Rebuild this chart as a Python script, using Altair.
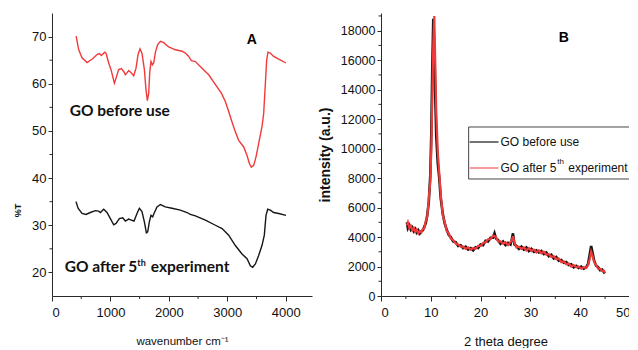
import altair as alt
import pandas as pd

# ---------------- Panel A: FTIR ----------------
wn_before = [413, 457, 514, 600, 685, 770, 811, 845, 902, 924, 970, 1010, 1068, 1096, 1141, 1187,
             1227, 1256, 1284, 1313, 1358, 1398, 1438, 1473, 1506, 1540, 1581, 1609, 1632, 1655,
             1672, 1694, 1718, 1741, 1770, 1809, 1855, 1912, 1997, 2112, 2225, 2283, 2340, 2385,
             2454, 2568, 2682, 2797, 2899, 2968, 3024, 3081, 3138, 3195, 3281, 3338, 3378, 3412,
             3452, 3492, 3537, 3594, 3623, 3652, 3675, 3697, 3737, 3794, 3880, 4005]
t_before = [70.1, 67.2, 65.5, 64.5, 65.2, 66.2, 66.4, 66.0, 66.7, 66.5, 64.4, 63.0, 60.1, 61.2, 63.0, 63.2,
            62.6, 61.9, 62.3, 62.8, 62.3, 61.7, 63.3, 66.2, 67.4, 66.5, 63.0, 58.7, 56.4, 58.0,
            62.3, 64.7, 64.0, 64.4, 66.7, 68.3, 69.0, 68.7, 67.8, 67.2, 66.9, 66.5, 65.8, 64.9,
            64.7, 63.3, 61.9, 59.8, 58.0, 56.2, 54.1, 51.9, 49.8, 48.0, 46.6, 44.8, 43.1, 42.3,
            42.7, 44.5, 47.3, 50.9, 53.7, 60.1, 65.1, 66.7, 66.5, 65.8, 65.2, 64.4]

wn_after = [411, 446, 514, 582, 656, 742, 799, 828, 885, 942, 999, 1056, 1096, 1153, 1210, 1256,
            1313, 1358, 1404, 1455, 1495, 1540, 1581, 1615, 1638, 1666, 1694, 1723, 1746, 1797,
            1855, 1940, 2054, 2197, 2311, 2368, 2454, 2625, 2797, 2911, 3024, 3138, 3252, 3338,
            3395, 3435, 3481, 3537, 3594, 3634, 3663, 3692, 3737, 3794, 3880, 4005]
t_after = [35.0, 33.6, 32.5, 32.3, 32.7, 33.1, 33.0, 32.7, 33.4, 32.7, 31.4, 30.1, 30.4, 31.4, 31.6, 30.9,
           31.3, 31.1, 30.9, 32.5, 33.6, 32.9, 30.7, 28.4, 28.6, 30.7, 32.1, 31.8, 32.5, 33.9,
           34.4, 33.9, 33.6, 33.2, 32.7, 32.3, 32.0, 31.1, 30.0, 29.3, 27.9, 25.7, 23.9, 22.9,
           21.4, 21.1, 21.8, 23.6, 25.7, 27.9, 32.1, 33.4, 33.2, 32.7, 32.5, 32.1]

# ---------------- Panel B: XRD ----------------
tt_grid = [5.2, 5.4, 5.7, 6.0, 6.3, 6.6, 6.9, 7.2, 7.5, 7.8, 8.1, 8.4, 8.7, 9.0, 9.3, 9.6, 9.9,
           10.1, 10.3, 10.5, 10.7, 10.9, 11.1, 11.4, 11.7, 12.0, 12.4, 12.8, 13.2, 13.6, 14.0,
           14.5, 15.0, 15.5, 16.0, 16.5, 17.0, 17.5, 18.0, 18.5, 19.0, 19.5, 20.0, 20.5, 21.0,
           21.5, 22.0, 22.5, 22.8, 23.1, 23.5, 24.0, 24.5, 25.0, 25.5, 26.0, 26.3, 26.5, 26.8,
           27.2, 27.7, 28.2, 28.7, 29.2, 29.7, 30.2, 30.7, 31.2, 31.7, 32.2, 32.7, 33.2, 33.7,
           34.2, 34.7, 35.2, 35.7, 36.2, 36.7, 37.2, 37.7, 38.2, 38.7, 39.2, 39.7, 40.2, 40.7,
           41.2, 41.6, 41.9, 42.2, 42.5, 42.8, 43.2, 43.6, 44.0, 44.4, 44.8, 45.0]
int_black = [5000, 4600, 4800, 4500, 4650, 4400, 4550, 4300, 4450, 4250, 4400, 4450, 4700, 4950, 5500,
             6400, 8200, 11000, 15500, 18800, 17000, 13500, 10800, 9000, 8000, 6600, 5600, 4900,
             4500, 4150, 4000, 3700, 3650, 3400, 3450, 3250, 3350, 3150, 3250, 3100, 3300, 3250,
             3500, 3450, 3750, 3700, 3950, 3950, 4250, 3900, 3800, 3550, 3700, 3450, 3600, 3500,
             3900, 4250, 3500, 3400, 3200, 3350, 3150, 3300, 3050, 3200, 3000, 3100, 2950, 3050,
             2850, 2950, 2700, 2800, 2550, 2650, 2400, 2450, 2250, 2300, 2100, 2150, 1950, 2050,
             1900, 2000, 1850, 1950, 2200, 2800, 3400, 2900, 2400, 2050, 1950, 1750, 1800, 1600, 1650]
int_red = [4800, 5000, 4600, 4750, 4450, 4600, 4350, 4500, 4250, 4400, 4300, 4550, 4600, 5100, 5400,
           6600, 7800, 10000, 13500, 17000, 19000, 15800, 12500, 9800, 8300, 6900, 5500, 5000,
           4400, 4250, 3900, 3800, 3550, 3500, 3350, 3350, 3200, 3300, 3150, 3250, 3200, 3400,
           3400, 3600, 3650, 3850, 3850, 4100, 4050, 4000, 3700, 3700, 3550, 3650, 3450, 3650,
           3800, 4050, 3600, 3300, 3350, 3200, 3300, 3100, 3250, 3050, 3150, 2950, 3100, 2900,
           3000, 2800, 2850, 2650, 2700, 2500, 2550, 2300, 2350, 2150, 2200, 2000, 2100, 1950,
           2000, 1850, 1950, 1900, 2100, 2500, 3000, 2700, 2300, 2100, 1850, 1850, 1700, 1700, 1550]

FONT = "Liberation Sans"
ANNO_FONT = "Lato"
RED = "#f03a3a"
BLACK = "#161616"
AX = "#2a2a2a"
H = 283

# ---------- Panel A ----------
xA_scale = alt.Scale(domain=[0, 4450], nice=False, zero=False)
yA_scale = alt.Scale(domain=[15, 75], nice=False, zero=False)
xA_axis = alt.Axis(values=[0, 1000, 2000, 3000, 4000], format="d", title="wavenumber cm⁻¹", titleFontSize=11.5,
                   titleFontWeight="normal", titlePadding=16, labelFontSize=13, tickSize=5, labelPadding=5)
yA_axis = alt.Axis(values=[20, 30, 40, 50, 60, 70], format="d", title="%T", titleFontSize=9, titleFontWeight="bold",
                   titleAngle=270, titleX=-35, titleY=197, titleAlign="center", titleBaseline="middle",
                   labelFontSize=13, tickSize=4, labelPadding=2)


def xA(f):
    return alt.X(f"{f}:Q", scale=xA_scale, axis=xA_axis)


def yA(f):
    return alt.Y(f"{f}:Q", scale=yA_scale, axis=yA_axis)


dfA_before = pd.DataFrame({"wn": wn_before, "t": t_before})
dfA_after = pd.DataFrame({"wn": wn_after, "t": t_after})

lineA_red = alt.Chart(dfA_before).mark_line(color=RED, strokeWidth=1.4).encode(x=xA("wn"), y=yA("t"))
lineA_black = alt.Chart(dfA_after).mark_line(color=BLACK, strokeWidth=1.4).encode(x=xA("wn"), y=yA("t"))

minorA_y = pd.DataFrame({"t": [25, 35, 45, 55, 65]})
minorA_x = pd.DataFrame({"wn": [500, 1500, 2500, 3500]})
ticksA_y = alt.Chart(minorA_y).mark_rule(color=AX).encode(y=yA("t"), x=alt.value(-2.5), x2=alt.value(0))
ticksA_x = alt.Chart(minorA_x).mark_rule(color=AX).encode(x=xA("wn"), y=alt.value(H), y2=alt.value(H + 3))

labA = pd.DataFrame({"wn": [3420], "t": [69.3], "s": ["A"]})
textA_label = alt.Chart(labA).mark_text(font=FONT, fontSize=14, fontWeight="bold", color="#000").encode(
    x=xA("wn"), y=yA("t"), text="s:N")

anno_main = pd.DataFrame({"wn": [303, 217, 1690], "t": [54.2, 21.15, 21.15],
                          "s": ["GO before use", "GO after 5", "experiment"]})
anno_sup = pd.DataFrame({"wn": [1460], "t": [22.0], "s": ["th"]})
textA_main = alt.Chart(anno_main).mark_text(font=ANNO_FONT, fontSize=15.5, fontWeight="bold", align="left",
                                            baseline="middle", color="#111").encode(x=xA("wn"), y=yA("t"), text="s:N")
textA_sup = alt.Chart(anno_sup).mark_text(font=ANNO_FONT, fontSize=9, fontWeight="bold", align="left",
                                          baseline="middle", color="#111").encode(x=xA("wn"), y=yA("t"), text="s:N")

panelA = alt.layer(lineA_red, lineA_black, ticksA_y, ticksA_x, textA_label, textA_main, textA_sup).properties(
    width=260, height=H)

# ---------- Panel B ----------
xB_scale = alt.Scale(domain=[0, 50], nice=False, zero=False)
yB_scale = alt.Scale(domain=[0, 19200], nice=False, zero=False)
xB_axis = alt.Axis(values=[0, 10, 20, 30, 40, 50], format="d", title="2 theta degree", titleFontSize=13,
                   titleFontWeight="normal", titlePadding=16, labelFontSize=13, tickSize=5, labelPadding=5)
yB_axis = alt.Axis(values=list(range(0, 18001, 2000)), format="d", title="intensity (a.u.)", titleFontSize=14,
                   titleFontWeight="bold", titlePadding=8, labelFontSize=12.5, tickSize=4, labelPadding=2)


def xB(f):
    return alt.X(f"{f}:Q", scale=xB_scale, axis=xB_axis)


def yB(f):
    return alt.Y(f"{f}:Q", scale=yB_scale, axis=yB_axis)


dfB_black = pd.DataFrame({"tt": tt_grid, "i": int_black})
dfB_red = pd.DataFrame({"tt": tt_grid, "i": int_red})
lineB_black = alt.Chart(dfB_black).mark_line(color=BLACK, strokeWidth=2.6).encode(x=xB("tt"), y=yB("i"))
lineB_red = alt.Chart(dfB_red).mark_line(color=RED, strokeWidth=2.2).encode(x=xB("tt"), y=yB("i"))

minorB_y = pd.DataFrame({"i": list(range(1000, 19001, 2000))})
minorB_x = pd.DataFrame({"tt": [5, 15, 25, 35, 45]})
ticksB_y = alt.Chart(minorB_y).mark_rule(color=AX).encode(y=yB("i"), x=alt.value(-2.5), x2=alt.value(0))
ticksB_x = alt.Chart(minorB_x).mark_rule(color=AX).encode(x=xB("tt"), y=alt.value(H), y2=alt.value(H + 3))

labB = pd.DataFrame({"tt": [36.7], "i": [17500], "s": ["B"]})
textB_label = alt.Chart(labB).mark_text(font=FONT, fontSize=14, fontWeight="bold", color="#000").encode(
    x=xB("tt"), y=yB("i"), text="s:N")

# legend
leg_box = pd.DataFrame({"tt": [17.6], "tt2": [50.3], "i": [11466], "i2": [7938]})
legend_box = alt.Chart(leg_box).mark_rect(fill="white", stroke="#444", strokeWidth=1).encode(
    x=xB("tt"), x2="tt2:Q", y=yB("i"), y2="i2:Q")
leg_lines = pd.DataFrame({"tt": [17.8, 17.8], "tt2": [23.6, 23.6], "i": [10448, 8684],
                          "c": ["GO before use", "GO after 5th experiment"]})
legend_lines = alt.Chart(leg_lines).mark_rule(strokeWidth=1.2).encode(
    x=xB("tt"), x2="tt2:Q", y=yB("i"),
    color=alt.Color("c:N", scale=alt.Scale(domain=["GO before use", "GO after 5th experiment"],
                                           range=[BLACK, "#f25a5a"]), legend=None))
leg_text = pd.DataFrame({"tt": [24.0, 24.0, 37.6], "i": [10448, 8684, 8684],
                         "s": ["GO before use", "GO after 5", "experiment"]})
legend_text = alt.Chart(leg_text).mark_text(font=FONT, fontSize=12, align="left", baseline="middle",
                                            color="#111").encode(x=xB("tt"), y=yB("i"), text="s:N")
leg_sup = pd.DataFrame({"tt": [35.4], "i": [9100], "s": ["th"]})
legend_sup = alt.Chart(leg_sup).mark_text(font=FONT, fontSize=8, align="left", baseline="middle",
                                          color="#111").encode(x=xB("tt"), y=yB("i"), text="s:N")

panelB = alt.layer(lineB_black, lineB_red, ticksB_y, ticksB_x, textB_label, legend_box, legend_lines,
                   legend_text, legend_sup).properties(width=249, height=H)

chart = alt.hconcat(panelA, panelB, spacing=6).properties(
    padding={"left": 5, "top": 3, "right": -3, "bottom": 0}
).configure_view(stroke=None).configure_axis(
    grid=False, domainColor=AX, tickColor=AX, labelColor="#111", titleColor="#111",
    labelFont=FONT, titleFont=FONT
)

chart.save("out.html", embed_options={"renderer": "svg", "actions": False})
